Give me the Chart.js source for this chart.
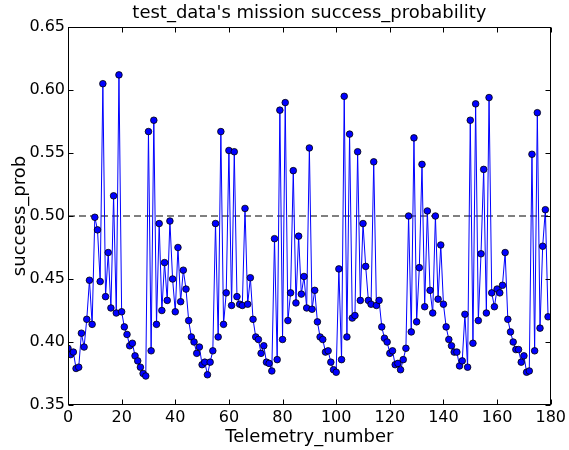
<!DOCTYPE html>
<html><head><meta charset="utf-8">
<script src="https://cdn.jsdelivr.net/npm/chart.js@4/dist/chart.umd.min.js"></script>
<style>html,body{margin:0;padding:0;background:#fff;}canvas{display:block;}</style>
</head><body>
<canvas id="c" width="569" height="450"></canvas>
<script>
const successProb = [
0.395,0.390,0.392,0.379,0.380,0.407,0.396,0.418,0.449,0.414,
0.499,0.489,0.448,0.605,0.436,0.471,0.427,0.516,0.423,0.612,
0.424,0.412,0.406,0.397,0.399,0.389,0.385,0.380,0.375,0.373,
0.567,0.393,0.576,0.414,0.494,0.425,0.463,0.433,0.496,0.450,
0.424,0.475,0.432,0.457,0.442,0.417,0.404,0.400,0.391,0.396,
0.382,0.384,0.374,0.384,0.393,0.494,0.404,0.567,0.414,0.439,
0.552,0.429,0.551,0.436,0.430,0.429,0.506,0.430,0.451,0.418,
0.404,0.402,0.391,0.397,0.384,0.383,0.377,0.482,0.386,0.584,
0.402,0.590,0.417,0.439,0.536,0.431,0.484,0.438,0.452,0.427,
0.554,0.426,0.441,0.416,0.404,0.402,0.392,0.393,0.384,0.378,
0.376,0.458,0.386,0.595,0.404,0.565,0.419,0.421,0.551,0.433,
0.494,0.460,0.433,0.430,0.543,0.429,0.433,0.412,0.403,0.400,
0.391,0.393,0.382,0.383,0.378,0.386,0.395,0.500,0.408,0.562,
0.416,0.459,0.541,0.428,0.504,0.441,0.423,0.500,0.434,0.477,
0.430,0.412,0.402,0.397,0.392,0.392,0.381,0.385,0.422,0.380,
0.576,0.399,0.589,0.417,0.470,0.537,0.423,0.594,0.439,0.428,
0.442,0.439,0.445,0.471,0.418,0.408,0.400,0.394,0.394,0.384,
0.389,0.376,0.377,0.549,0.393,0.582,0.411,0.476,0.505,0.420
];
const xTicks = [0,20,40,60,80,100,120,140,160,180];
const yTicks = [0.35,0.40,0.45,0.50,0.55,0.60,0.65];
const threshold = 0.5;
const titleText = "test_data's mission success_probability";
const xLabel = "Telemetry_number";
const yLabel = "success_prob";

const FONT = '"DejaVu Sans", sans-serif';

const framePlugin = {
  id: 'frame',
  afterDraw(chart) {
    const {ctx, chartArea: a, scales: {x, y}} = chart;
    ctx.save();
    ctx.strokeStyle = '#000';
    ctx.lineWidth = 1;
    const L = Math.round(a.left) + 0.5, R = Math.round(a.right) - 0.5;
    const T = Math.round(a.top) + 0.5, B = Math.round(a.bottom) - 0.5;
    ctx.strokeRect(L, T, R - L, B - T);
    const tl = 5;
    ctx.beginPath();
    xTicks.forEach(v => {
      const px = Math.round(x.getPixelForValue(v)) + 0.5;
      ctx.moveTo(px, B); ctx.lineTo(px, B - tl);
      ctx.moveTo(px, T); ctx.lineTo(px, T + tl);
    });
    yTicks.forEach(v => {
      const py = Math.round(y.getPixelForValue(v)) + 0.5;
      ctx.moveTo(L, py); ctx.lineTo(L + tl, py);
      ctx.moveTo(R, py); ctx.lineTo(R - tl, py);
    });
    ctx.stroke();
    ctx.fillStyle = '#000';
    ctx.font = '18px ' + FONT;
    ctx.textAlign = 'center';
    ctx.textBaseline = 'middle';
    const cx = (a.left + a.right) / 2;
    ctx.fillText(titleText, cx, 13);
    ctx.fillText(xLabel, cx, 437);
    ctx.translate(20, (a.top + a.bottom) / 2);
    ctx.rotate(-Math.PI / 2);
    ctx.fillText(yLabel, 0, 0);
    ctx.restore();
  }
};

const seriesData = successProb.map((v, i) => ({x: i, y: v}));
const threshData = [{x: xTicks[0], y: threshold}, {x: xTicks[xTicks.length - 1], y: threshold}];

new Chart(document.getElementById('c'), {
  type: 'line',
  data: {
    datasets: [
      {
        data: threshData,
        borderColor: '#000',
        borderWidth: 1,
        borderDash: [7, 4],
        pointRadius: 0,
        fill: false,
        order: 2
      },
      {
        data: seriesData,
        borderColor: '#0000ff',
        borderWidth: 1,
        pointRadius: 3.3,
        pointBackgroundColor: '#0000ff',
        pointBorderColor: '#000',
        pointBorderWidth: 0.8,
        fill: false,
        tension: 0,
        order: 1
      }
    ]
  },
  options: {
    responsive: false,
    animation: false,
    devicePixelRatio: 1,
    layout: {padding: {top: 27, right: 16, left: 0, bottom: 0}},
    plugins: {legend: {display: false}, tooltip: {enabled: false}, title: {display: false}},
    scales: {
      x: {
        type: 'linear', min: 0, max: 180,
        grid: {display: false, drawTicks: false},
        border: {display: false},
        afterBuildTicks: s => { s.ticks = xTicks.map(v => ({value: v})); },
        afterFit: s => { s.height = 45; },
        ticks: {font: {family: FONT, size: 16}, color: '#000', padding: 3, maxRotation: 0, autoSkip: false}
      },
      y: {
        type: 'linear', min: 0.35, max: 0.65,
        grid: {display: false, drawTicks: false},
        border: {display: false},
        afterBuildTicks: s => { s.ticks = yTicks.map(v => ({value: v})); },
        afterFit: s => { s.width = 68; },
        ticks: {font: {family: FONT, size: 16}, color: '#000', padding: 3, callback: v => Number(v).toFixed(2)}
      }
    }
  },
  plugins: [framePlugin]
});
</script>
</body></html>
